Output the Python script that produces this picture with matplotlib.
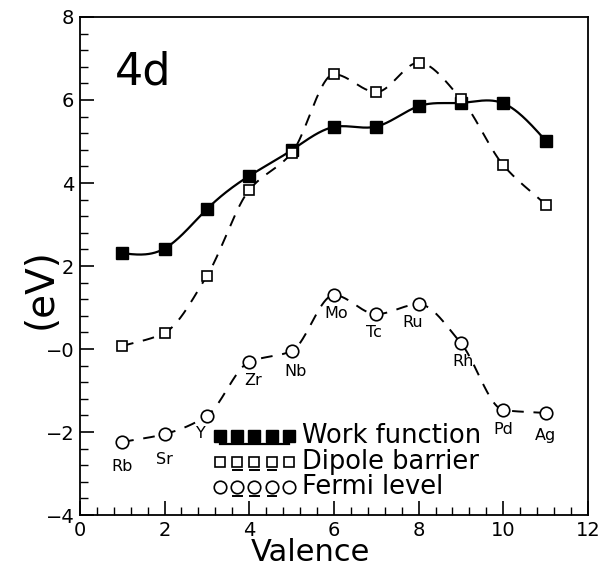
import numpy as np
import matplotlib.pyplot as plt
from matplotlib.ticker import MultipleLocator, FuncFormatter

valence = [1, 2, 3, 4, 5, 6, 7, 8, 9, 10, 11]
elements = ['Rb', 'Sr', 'Y', 'Zr', 'Nb', 'Mo', 'Tc', 'Ru', 'Rh', 'Pd', 'Ag']
work_function = [2.31, 2.42, 3.37, 4.17, 4.79, 5.35, 5.36, 5.85, 5.93, 5.92, 5.02]
dipole_barrier = [0.07, 0.39, 1.76, 3.83, 4.72, 6.62, 6.19, 6.90, 6.03, 4.43, 3.48]
fermi_level = [-2.24, -2.05, -1.61, -0.31, -0.05, 1.30, 0.84, 1.08, 0.14, -1.47, -1.54]

# label offsets (dx, dy) for element names
label_off = [(0, -0.6), (0, -0.6), (-0.15, -0.42), (0.1, -0.45), (0.1, -0.5),
             (0.05, -0.45), (-0.05, -0.45), (-0.15, -0.45), (0.05, -0.45),
             (0.0, -0.48), (0.0, -0.55)]


def natural_spline(x, y, n=400):
    x = np.asarray(x, float)
    y = np.asarray(y, float)
    k = len(x)
    h = np.diff(x)
    A = np.zeros((k, k))
    b = np.zeros(k)
    A[0, 0] = A[-1, -1] = 1
    for i in range(1, k - 1):
        A[i, i - 1] = h[i - 1]
        A[i, i] = 2 * (h[i - 1] + h[i])
        A[i, i + 1] = h[i]
        b[i] = 6 * ((y[i + 1] - y[i]) / h[i] - (y[i] - y[i - 1]) / h[i - 1])
    M = np.linalg.solve(A, b)
    xs = np.linspace(x[0], x[-1], n)
    idx = np.clip(np.searchsorted(x, xs) - 1, 0, k - 2)
    x0, x1 = x[idx], x[idx + 1]
    hh = x1 - x0
    t0 = x1 - xs
    t1 = xs - x0
    ys = (M[idx] * t0**3 + M[idx + 1] * t1**3) / (6 * hh) \
        + (y[idx] / hh - M[idx] * hh / 6) * t0 \
        + (y[idx + 1] / hh - M[idx + 1] * hh / 6) * t1
    return xs, ys


def pchip(x, y, n=400):
    """monotone cubic hermite through the points"""
    x = np.asarray(x, float)
    y = np.asarray(y, float)
    h = np.diff(x)
    d = np.diff(y) / h
    m = np.zeros_like(y)
    for i in range(1, len(x) - 1):
        if d[i - 1] * d[i] > 0:
            w1 = 2 * h[i] + h[i - 1]
            w2 = h[i] + 2 * h[i - 1]
            m[i] = (w1 + w2) / (w1 / d[i - 1] + w2 / d[i])
    m[0] = d[0]
    m[-1] = d[-1]
    xs = np.linspace(x[0], x[-1], n)
    idx = np.clip(np.searchsorted(x, xs) - 1, 0, len(x) - 2)
    t = (xs - x[idx]) / h[idx]
    h00 = 2 * t**3 - 3 * t**2 + 1
    h10 = t**3 - 2 * t**2 + t
    h01 = -2 * t**3 + 3 * t**2
    h11 = t**3 - t**2
    ys = h00 * y[idx] + h10 * h[idx] * m[idx] + h01 * y[idx + 1] + h11 * h[idx] * m[idx + 1]
    return xs, ys


plt.rcParams['font.family'] = 'DejaVu Sans'
fig = plt.figure(figsize=(6, 5.66), dpi=100)
ax = fig.add_axes([0.133, 0.09, 0.847, 0.88])

xs, ys = natural_spline(valence, work_function)
ax.plot(xs, ys, color='black', lw=1.6, zorder=2)
ax.plot(valence, work_function, 's', ms=9, color='black', zorder=3)

xs, ys = pchip(valence, dipole_barrier)
ax.plot(xs, ys, color='black', lw=1.4, dashes=(6, 5), zorder=2)
ax.plot(valence, dipole_barrier, 's', ms=7.5, mfc='white', mec='black', mew=1.2, zorder=3)

xs, ys = pchip(valence, fermi_level)
ax.plot(xs, ys, color='black', lw=1.4, dashes=(6, 5), zorder=2)
ax.plot(valence, fermi_level, 'o', ms=9, mfc='white', mec='black', mew=1.2, zorder=3)

for x, y, name, (dx, dy) in zip(valence, fermi_level, elements, label_off):
    ax.text(x + dx, y + dy, name, ha='center', va='center', fontsize=11.5)

# hand-made legend
leg_x = np.linspace(3.3, 4.95, 5)
rows = [(-2.1, 'Work function'), (-2.72, 'Dipole barrier'), (-3.33, 'Fermi level')]
ax.plot(leg_x, [rows[0][0]] * 5, 's', ms=9, color='black')
ax.plot([3.3, 4.95], [rows[0][0] - 0.2] * 2, color='black', lw=1.6)
ax.plot(leg_x, [rows[1][0]] * 5, 's', ms=7.5, mfc='white', mec='black', mew=1.2)
ax.plot(leg_x, [rows[2][0]] * 5, 'o', ms=9, mfc='white', mec='black', mew=1.2)
for yy in (rows[1][0], rows[2][0]):
    for xx in (3.72, 4.12, 4.54):
        ax.plot([xx - 0.1, xx + 0.1], [yy - 0.2] * 2, color='black', lw=1.4)
for yy, txt in rows:
    ax.text(5.25, yy, txt, va='center', ha='left', fontsize=18.5)

ax.text(0.83, 6.67, '4d', fontsize=32, va='center', ha='left')

ax.set_xlim(0, 12)
ax.set_ylim(-4, 8)
ax.xaxis.set_major_locator(MultipleLocator(2))
ax.xaxis.set_minor_locator(MultipleLocator(0.4))
ax.yaxis.set_major_locator(MultipleLocator(2))
ax.yaxis.set_minor_locator(MultipleLocator(0.4))
ax.yaxis.set_major_formatter(FuncFormatter(
    lambda v, p: '\u22120' if v == 0 else ('\u2212%d' % -v if v < 0 else '%d' % v)))
ax.tick_params(which='both', direction='in', top=False, right=False, labelsize=14)
ax.tick_params(which='major', length=10, width=1.2, pad=4)
ax.tick_params(which='minor', length=6, width=1.0)
for s in ax.spines.values():
    s.set_linewidth(1.3)

fig.text(0.517, 0.024, 'Valence', fontsize=22, ha='center', va='center')
fig.text(0.067, 0.49, '(eV)', fontsize=28, ha='center', va='center', rotation=90)

fig.savefig('out.png', dpi=100)
